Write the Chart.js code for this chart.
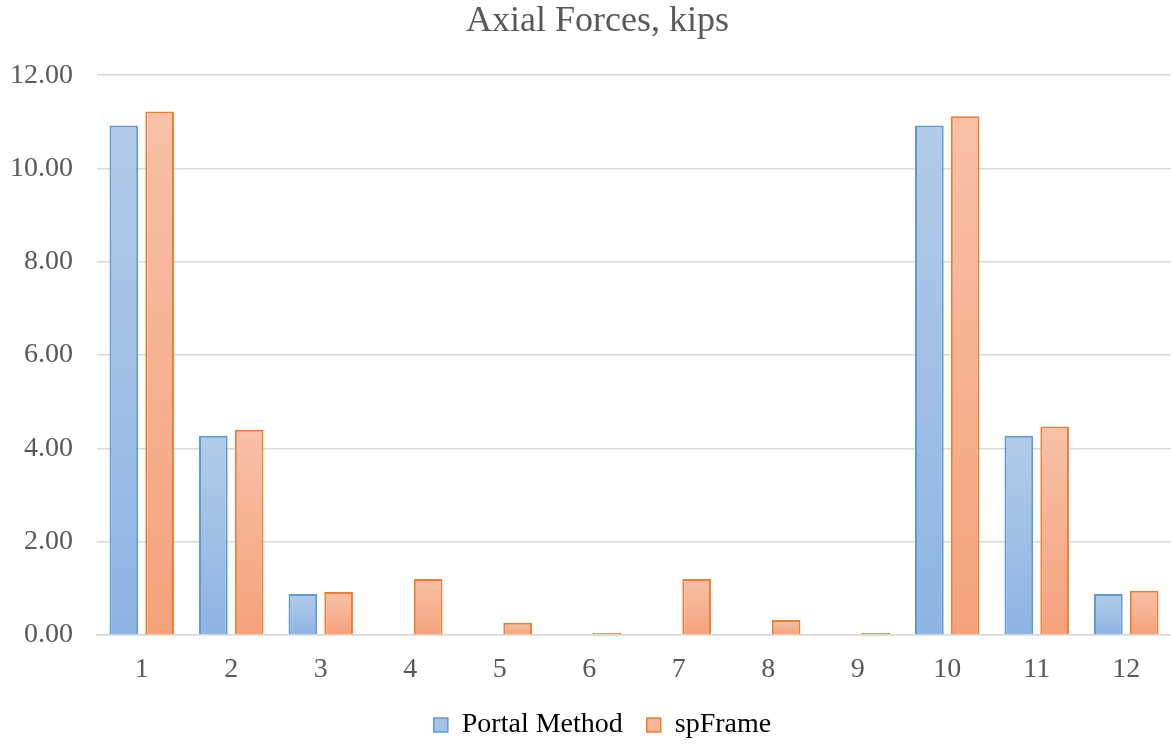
<!DOCTYPE html>
<html>
<head>
<meta charset="utf-8">
<script src="https://cdn.jsdelivr.net/npm/chart.js@4/dist/chart.umd.min.js"></script>
<style>
  html, body { margin: 0; padding: 0; background: #fff; }
  #wrap { width: 1171px; height: 745px; }
</style>
</head>
<body>
<div id="wrap"><canvas id="axial"></canvas></div>
<script>
const members = ['1', '2', '3', '4', '5', '6', '7', '8', '9', '10', '11', '12'];
const portalMethod = [10.92, 4.27, 0.88, 0, 0, 0, 0, 0, 0, 10.92, 4.27, 0.88];
const spFrame = [11.22, 4.40, 0.92, 1.20, 0.26, 0.05, 1.20, 0.32, 0.05, 11.12, 4.47, 0.95];
const yTicks = [0, 2, 4, 6, 8, 10, 12];

const SERIF = '"Liberation Serif", "Times New Roman", serif';
const GREY = '#595959';

// each bar gets its own vertical fade, lighter at the top;
// bars only a few pixels tall are filled with the edge colour
function barFill(top, bottom, edge) {
    return (ctx) => {
        const chart = ctx.chart;
        if (ctx.type !== 'data' || !chart.chartArea || !chart.scales.y) return top;
        const y = chart.scales.y;
        const y0 = y.getPixelForValue(0);
        const y1 = y.getPixelForValue(ctx.raw);
        if (!isFinite(y1) || Math.abs(y0 - y1) < 4) return edge;
        const g = chart.ctx.createLinearGradient(0, y1, 0, y0);
        g.addColorStop(0, top);
        g.addColorStop(1, bottom);
        return g;
    };
}

// title and legend sit a little right of the canvas centre
const headerOffset = {
    id: 'headerOffset',
    afterLayout(chart) {
        if (chart.titleBlock) {
            chart.titleBlock.left += 12;
            chart.titleBlock.right += 12;
        }
        if (chart.legend) {
            chart.legend.left += 17;
            chart.legend.right += 17;
        }
    }
};

const datasets = [
    {
        label: 'Portal Method',
        data: portalMethod,
        backgroundColor: barFill('#B2CBE9', '#8EB4E3', '#5B9BD5'),
        borderColor: '#5B9BD5',
        borderWidth: 2,
        categoryPercentage: 0.8,
        barPercentage: 0.8
    },
    {
        label: 'spFrame',
        data: spFrame,
        backgroundColor: barFill('#F8C1A6', '#F5A27C', '#ED7D31'),
        borderColor: '#ED7D31',
        borderWidth: 2,
        categoryPercentage: 0.8,
        barPercentage: 0.8
    }
];

new Chart(document.getElementById('axial'), {
    type: 'bar',
    data: { labels: members, datasets: datasets },
    plugins: [headerOffset],
    options: {
        responsive: true,
        maintainAspectRatio: false,
        animation: false,
        layout: { padding: { top: 0, left: 0, right: 0, bottom: -4 } },
        plugins: {
            title: {
                display: true,
                text: 'Axial Forces, kips',
                color: GREY,
                font: { family: SERIF, size: 36, weight: 'normal' },
                padding: { top: 0, bottom: 32 }
            },
            legend: {
                position: 'bottom',
                labels: {
                    color: GREY,
                    font: { family: SERIF, size: 28 },
                    boxWidth: 14,
                    boxHeight: 14,
                    padding: 24,
                    generateLabels: (chart) => chart.data.datasets.map((ds, i) => ({
                        text: ds.label,
                        fillStyle: i === 0 ? '#A6C3E7' : '#F7B497',
                        strokeStyle: ds.borderColor,
                        lineWidth: 1.5,
                        datasetIndex: i,
                        hidden: !chart.isDatasetVisible(i)
                    }))
                }
            },
            tooltip: { enabled: false }
        },
        scales: {
            x: {
                grid: { display: false, drawTicks: false },
                border: { display: true, color: '#D9D9D9', width: 1.5 },
                ticks: { color: GREY, font: { family: SERIF, size: 28 }, padding: 18 },
                afterFit: (axis) => { axis.height = 52; }
            },
            y: {
                min: 0,
                max: 12,
                afterBuildTicks: (axis) => { axis.ticks = yTicks.map(v => ({ value: v })); },
                afterFit: (axis) => { axis.width = 97; },
                grid: { color: '#D9D9D9', lineWidth: 1.5, drawTicks: false },
                border: { display: false },
                ticks: {
                    color: GREY,
                    font: { family: SERIF, size: 28 },
                    padding: 24,
                    callback: (v) => Number(v).toFixed(2)
                }
            }
        }
    }
});
</script>
</body>
</html>
